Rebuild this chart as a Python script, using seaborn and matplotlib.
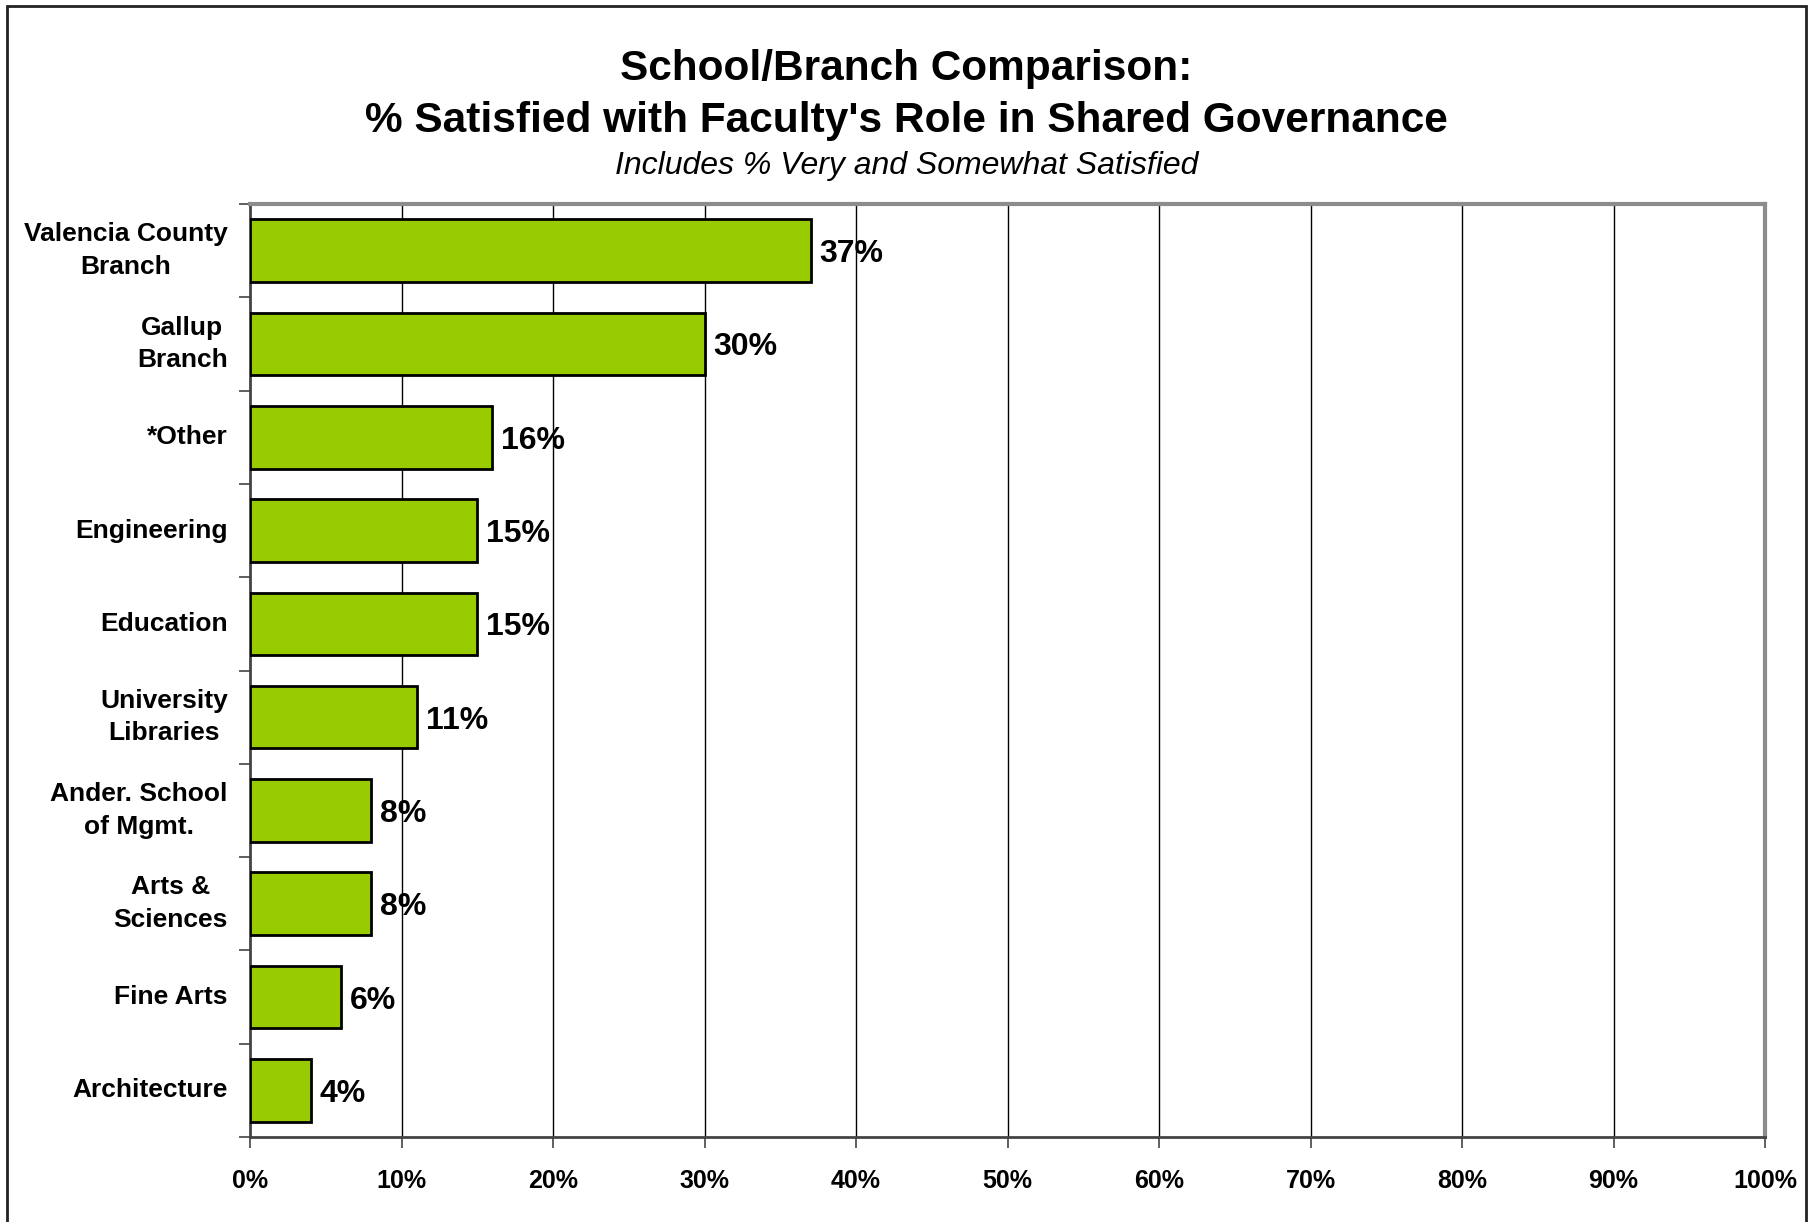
import numpy as np
import pandas as pd
import matplotlib
matplotlib.use("Agg")
import matplotlib.pyplot as plt
import seaborn as sns
from matplotlib.patches import Rectangle

# ─── Data ─────────────────────────────────────────────────────────────────────
schools = [
    "Valencia County\nBranch", "Gallup\nBranch", "*Other", "Engineering",
    "Education", "University\nLibraries", "Ander. School\nof Mgmt.",
    "Arts &\nSciences", "Fine Arts", "Architecture",
]
pct_satisfied = [37, 30, 16, 15, 15, 11, 8, 8, 6, 4]
x_ticks = list(range(0, 101, 10))
x_tick_labels = [f"{t}%" for t in x_ticks]

df = pd.DataFrame({"School": schools, "Pct": pct_satisfied})

# ─── Style ────────────────────────────────────────────────────────────────────
sns.set_style("white")
plt.rcParams["font.family"] = ["Liberation Sans", "DejaVu Sans"]
plt.rcParams["text.color"] = "black"
plt.rcParams["xtick.color"] = "black"
plt.rcParams["ytick.color"] = "black"
plt.rcParams["axes.labelcolor"] = "black"

fig = plt.figure(figsize=(18.13, 12.22), dpi=100)
ax = fig.add_axes([250 / 1813, 85 / 1222, 1515 / 1813, 933 / 1222])

sns.barplot(data=df, x="Pct", y="School", color="#99CC00", saturation=1,
            edgecolor="black", linewidth=2, width=0.67, ax=ax, zorder=3)

ax.set_xlim(0, 100)
ax.set_ylim(len(schools) - 0.5, -0.5)
ax.set_xticks(x_ticks)
ax.set_xticklabels(x_tick_labels, fontsize=18, fontweight="bold")
ax.set_xlabel("")
ax.set_ylabel("")

# gridlines
for t in x_ticks[1:-1]:
    ax.axvline(t, color="black", lw=1, zorder=1)

# y ticks at category boundaries, labels at centres
ax.set_yticks(np.arange(len(schools)))
ax.set_yticklabels(schools, fontsize=19, fontweight="bold",
                   multialignment="center", linespacing=1.45, va="center")
ax.set_yticks(np.arange(len(schools) + 1) - 0.5, minor=True)
ax.tick_params(axis="y", which="major", length=0, pad=16)
ax.tick_params(axis="y", which="minor", length=8, width=1.2, color="#444444", left=True)
ax.tick_params(axis="x", which="major", length=8, width=1.2, color="#444444",
               bottom=True, pad=15)

for side in ["left", "bottom"]:
    ax.spines[side].set_color("#444444")
    ax.spines[side].set_linewidth(2)
for side in ["top", "right"]:
    ax.spines[side].set_color("#8c8c8c")
    ax.spines[side].set_linewidth(3)

# value labels
for i, v in enumerate(pct_satisfied):
    ax.text(v + 0.6, i, f"{v}%", va="center_baseline", ha="left",
            fontsize=23, fontweight="bold", zorder=4)

# titles
fig.text(0.5, 1 - 69 / 1222, "School/Branch Comparison:", ha="center", va="center",
         fontsize=30.5, fontweight="bold")
fig.text(0.5, 1 - 121 / 1222, "% Satisfied with Faculty's Role in Shared Governance",
         ha="center", va="center", fontsize=30.5, fontweight="bold")
fig.text(0.5, 1 - 166 / 1222, "Includes % Very and Somewhat Satisfied",
         ha="center", va="center", fontsize=23, style="italic")

# outer border
fig.patches.append(Rectangle((7 / 1813, -0.05), 1799 / 1813, 1.05 - 6 / 1222,
                             transform=fig.transFigure, fill=False,
                             edgecolor="#222222", lw=2))

fig.savefig("out.png", dpi=100)
